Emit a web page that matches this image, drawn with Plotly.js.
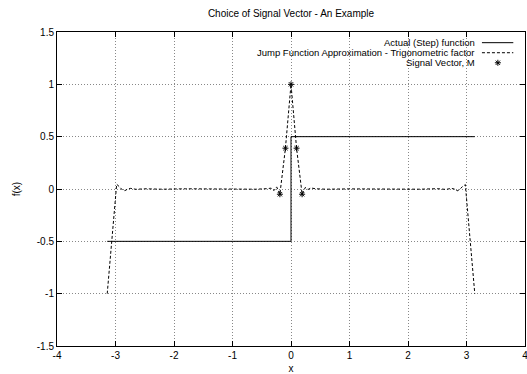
<!DOCTYPE html>
<html>
<head>
<meta charset="utf-8">
<script src="https://cdn.plot.ly/plotly-3.0.1.min.js"></script>
<style>html,body{margin:0;padding:0;background:#fff;}#chart{width:527px;height:374px;}</style>
</head>
<body>
<div id="chart"></div>
<script>
// Actual (step) function
var xStep = [-3.1416, 0, 0, 3.1416];
var yStep = [-0.5, -0.5, 0.5, 0.5];

// Jump function approximation - trigonometric factor
var xApprox = [-3.1416, -2.98, -2.93, -2.88, -2.84, -2.79, -2.74, -2.65, -2.5, -2.2, -1.8, -1.4, -1.0, -0.6, -0.42, -0.34, -0.29, -0.245, -0.19, -0.095, 0, 0.095, 0.19, 0.245, 0.29, 0.34, 0.42, 0.6, 1.0, 1.4, 1.8, 2.2, 2.5, 2.65, 2.74, 2.79, 2.84, 2.88, 2.93, 2.98, 3.1416];
var yApprox = [-1, 0.045, 0.02, -0.01, -0.016, 0.0, 0.006, -0.003, 0.002, -0.002, 0.002, -0.001, 0.001, -0.002, 0.003, 0.008, -0.015, 0.02, -0.05, 0.39, 1.0, 0.39, -0.05, 0.015, -0.005, 0.01, 0.002, -0.002, 0.001, -0.001, 0.002, -0.002, 0.003, -0.004, 0.006, 0.0, -0.018, -0.005, 0.022, 0.042, -1];

// Signal vector, M
var xSignal = [-0.19, -0.095, 0, 0.095, 0.19];
var ySignal = [-0.05, 0.39, 1.0, 0.39, -0.05];

var xTicks = [-4, -3, -2, -1, 0, 1, 2, 3, 4];
var yTicks = [-1.5, -1, -0.5, 0, 0.5, 1, 1.5];
var yTickText = ['-1.5', '-1', '-0.5', '0', '0.5', '1', '1.5'];

var legendNames = ['Actual (Step) function', 'Jump Function Approximation - Trigonometric factor', 'Signal Vector, M'];

var FONT = 'Liberation Sans, Arial, sans-serif';

var traces = [
  {x: xStep, y: yStep, mode: 'lines', name: legendNames[0],
   line: {color: '#000', width: 1}},
  {x: xApprox, y: yApprox, mode: 'lines', name: legendNames[1],
   line: {color: '#000', width: 1, dash: '3px,2px'}},
  {x: xSignal, y: ySignal, mode: 'markers', name: legendNames[2],
   marker: {symbol: 'asterisk-open', size: 5, color: '#000', line: {color: '#000', width: 1}}},
  // legend glyph for signal vector (helper axes spanning the plot area 0..1)
  {x: [0.942], y: [0.902], xaxis: 'x2', yaxis: 'y2', mode: 'markers', hoverinfo: 'skip',
   marker: {symbol: 'asterisk-open', size: 5, color: '#000', line: {color: '#000', width: 1}}}
];

var legY = [0.966, 0.934, 0.902];
var annotations = [];
for (var i = 0; i < legendNames.length; i++) {
  annotations.push({xref: 'paper', yref: 'paper', x: 0.897, y: legY[i], xanchor: 'right', yanchor: 'middle',
    text: legendNames[i], showarrow: false, font: {family: FONT, size: 9.5, color: '#000'}});
}

var layout = {
  width: 527, height: 374,
  margin: {l: 57, r: 2, t: 32, b: 28},
  paper_bgcolor: '#fff', plot_bgcolor: '#fff',
  showlegend: false,
  font: {family: FONT, size: 10, color: '#000'},
  title: {text: 'Choice of Signal Vector - An Example', font: {family: FONT, size: 10, color: '#000'},
          x: 0.5, xref: 'paper', y: 0.963, yanchor: 'middle'},
  xaxis: {range: [-4, 4], tickvals: xTicks, ticktext: xTicks.map(String),
          showline: true, linecolor: '#000', linewidth: 1, mirror: 'ticks',
          ticks: 'inside', ticklen: 5, tickcolor: '#000', zeroline: false,
          showgrid: true, gridcolor: '#888', griddash: '1px,2px', gridwidth: 1,
          ticklabeloverflow: 'allow',
          tickfont: {family: FONT, size: 10, color: '#000'},
          title: {text: 'x', font: {family: FONT, size: 10, color: '#000'}, standoff: 4}},
  yaxis: {range: [-1.5, 1.5], tickvals: yTicks, ticktext: yTickText,
          showline: true, linecolor: '#000', linewidth: 1, mirror: 'ticks',
          ticks: 'inside', ticklen: 5, tickcolor: '#000', zeroline: false,
          showgrid: true, gridcolor: '#888', griddash: '1px,2px', gridwidth: 1,
          tickfont: {family: FONT, size: 10, color: '#000'},
          title: {text: 'f(x)', font: {family: FONT, size: 10, color: '#000'}, standoff: 14}},
  xaxis2: {overlaying: 'x', range: [0, 1], visible: false, fixedrange: true},
  yaxis2: {overlaying: 'y', range: [0, 1], visible: false, fixedrange: true},
  shapes: [
    {type: 'line', xref: 'paper', yref: 'paper', x0: 0.908, x1: 0.975, y0: legY[0], y1: legY[0],
     line: {color: '#000', width: 1}},
    {type: 'line', xref: 'paper', yref: 'paper', x0: 0.908, x1: 0.975, y0: legY[1], y1: legY[1],
     line: {color: '#000', width: 1, dash: '3px,2px'}}
  ],
  annotations: annotations
};

Plotly.newPlot('chart', traces, layout, {displayModeBar: false, staticPlot: true});
</script>
</body>
</html>
